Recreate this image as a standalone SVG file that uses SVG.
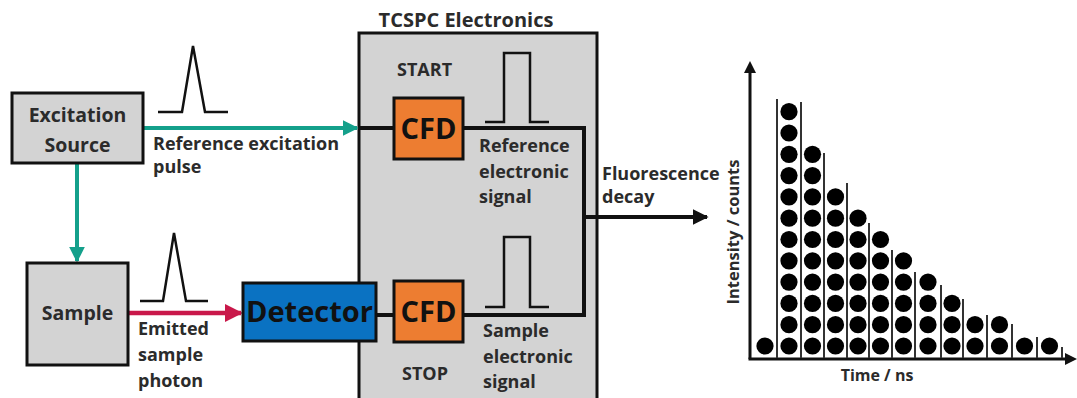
<svg xmlns="http://www.w3.org/2000/svg" width="1077" height="398" viewBox="0 0 1077 398">
<style>
.box{fill:#d3d3d3;stroke:#111;stroke-width:3}
.t{font-family:"Open Sans",Lato,"Liberation Sans",sans-serif;font-weight:bold;fill:#2b2b2b}
.m{font-size:18px}
.big{font-size:29px;fill:#111;text-anchor:middle}
.wire{fill:none;stroke:#111;stroke-width:4}
.pulse{fill:none;stroke:#111;stroke-width:2.5}
.div{stroke:#333;stroke-width:2}
</style>
<defs>
<marker id="aTeal" viewBox="0 0 10 10" refX="9" refY="5" markerWidth="4" markerHeight="4" orient="auto" markerUnits="strokeWidth"><path d="M0,0 L10,5 L0,10 z" fill="#14a08b"/></marker>
<marker id="aRed" viewBox="0 0 10 10" refX="9" refY="5" markerWidth="4" markerHeight="4" orient="auto" markerUnits="strokeWidth"><path d="M0,0 L10,5 L0,10 z" fill="#c9184a"/></marker>
<marker id="aBlk" viewBox="0 0 10 10" refX="9" refY="5" markerWidth="4" markerHeight="4" orient="auto" markerUnits="strokeWidth"><path d="M0,0 L10,5 L0,10 z" fill="#111"/></marker>
<circle id="dot" r="8.6" fill="#000"/>
</defs>

<g id="tcspc">
<rect class="box" x="359" y="33" width="238" height="380" stroke-width="2.5"/>
<text class="t" font-size="20" x="466" y="27" text-anchor="middle">TCSPC Electronics</text>
<text class="t m" x="397" y="76">START</text>
<text class="t m" x="402" y="380">STOP</text>
</g>

<g id="connectors">
<line x1="143" y1="128" x2="357" y2="128" stroke="#14a08b" stroke-width="4" marker-end="url(#aTeal)"/>
<line x1="77" y1="163" x2="77" y2="261" stroke="#14a08b" stroke-width="4" marker-end="url(#aTeal)"/>
<line x1="128" y1="313" x2="241" y2="313" stroke="#c9184a" stroke-width="4.5" marker-end="url(#aRed)"/>
<line class="wire" x1="359" y1="128" x2="394" y2="128"/>
<line class="wire" x1="376" y1="315" x2="394" y2="315"/>
<polyline class="wire" points="463,128 584,128 584,315 463,315"/>
<line x1="584" y1="217" x2="707" y2="217" stroke="#111" stroke-width="4" marker-end="url(#aBlk)"/>
</g>

<g id="excitation-source">
<rect class="box" x="12" y="93" width="131" height="70"/>
<text class="t" font-size="19.5" x="77.5" y="122" text-anchor="middle">Excitation</text>
<text class="t" font-size="19.5" x="77.5" y="152" text-anchor="middle">Source</text>
</g>

<g id="sample">
<rect class="box" x="27" y="263" width="101" height="102"/>
<text class="t" font-size="19.5" x="77.5" y="320" text-anchor="middle">Sample</text>
</g>

<g id="labels">
<polyline class="pulse" points="158,112 182,112 193,46 205,112 228,112"/>
<text class="t m" x="153" y="150">Reference excitation</text>
<text class="t m" x="153" y="173">pulse</text>
<polyline class="pulse" points="140,301 163,301 174,233 186,301 208,301"/>
<text class="t m" x="138" y="335">Emitted</text>
<text class="t m" x="138" y="361">sample</text>
<text class="t m" x="138" y="387">photon</text>
<polyline class="pulse" points="485,122 504,122 504,53 530,53 530,122 549,122"/>
<text class="t m" x="479" y="152">Reference</text>
<text class="t m" x="479" y="178">electronic</text>
<text class="t m" x="479" y="203">signal</text>
<polyline class="pulse" points="485,307 504,307 504,237 530,237 530,307 549,307"/>
<text class="t m" x="483" y="337">Sample</text>
<text class="t m" x="483" y="363">electronic</text>
<text class="t m" x="483" y="388">signal</text>
<text class="t m" x="602" y="180">Fluorescence</text>
<text class="t m" x="602" y="203">decay</text>
</g>

<g id="detector">
<rect x="243" y="283" width="133" height="58" fill="#0a72c2" stroke="#111" stroke-width="3"/>
<text class="t big" x="309.5" y="322">Detector</text>
</g>

<g id="cfd-start">
<rect x="394" y="98" width="69" height="61" fill="#ed7d31" stroke="#111" stroke-width="3"/>
<text class="t big" x="428.5" y="139">CFD</text>
</g>

<g id="cfd-stop">
<rect x="394" y="281" width="69" height="61" fill="#ed7d31" stroke="#111" stroke-width="3"/>
<text class="t big" x="428.5" y="322">CFD</text>
</g>

<g id="histogram">
<line x1="750" y1="359" x2="750" y2="70" stroke="#111" stroke-width="3"/>
<path d="M750,61 L756,73 L744,73 z" fill="#111"/>
<line x1="748.5" y1="359" x2="1068" y2="359" stroke="#111" stroke-width="3"/>
<path d="M1077,359 L1065,353 L1065,365 z" fill="#111"/>
<text class="t" font-size="16.5" transform="translate(739,232) rotate(-90)" text-anchor="middle">Intensity / counts</text>
<text class="t" font-size="16" x="877" y="381" text-anchor="middle">Time / ns</text>
<g>
<line class="div" x1="777" y1="99" x2="777" y2="358"/>
<line class="div" x1="801" y1="102" x2="801" y2="358"/>
<line class="div" x1="824" y1="153" x2="824" y2="358"/>
<line class="div" x1="847" y1="183" x2="847" y2="358"/>
<line class="div" x1="869" y1="223" x2="869" y2="358"/>
<line class="div" x1="892" y1="250" x2="892" y2="358"/>
<line class="div" x1="915" y1="272" x2="915" y2="358"/>
<line class="div" x1="941" y1="285" x2="941" y2="358"/>
<line class="div" x1="963" y1="299" x2="963" y2="358"/>
<line class="div" x1="987" y1="315" x2="987" y2="358"/>
<line class="div" x1="1012" y1="324" x2="1012" y2="358"/>
<line class="div" x1="1037" y1="337" x2="1037" y2="358"/>
<line class="div" x1="1062" y1="347" x2="1062" y2="358"/>
</g>
<g>
<use href="#dot" x="765" y="346"/>
<use href="#dot" x="789" y="346"/><use href="#dot" x="789" y="324.7"/><use href="#dot" x="789" y="303.4"/><use href="#dot" x="789" y="282.1"/><use href="#dot" x="789" y="260.8"/><use href="#dot" x="789" y="239.5"/><use href="#dot" x="789" y="218.2"/><use href="#dot" x="789" y="196.9"/><use href="#dot" x="789" y="175.6"/><use href="#dot" x="789" y="154.3"/><use href="#dot" x="789" y="133"/><use href="#dot" x="789" y="111.7"/>
<use href="#dot" x="812.5" y="346"/><use href="#dot" x="812.5" y="324.7"/><use href="#dot" x="812.5" y="303.4"/><use href="#dot" x="812.5" y="282.1"/><use href="#dot" x="812.5" y="260.8"/><use href="#dot" x="812.5" y="239.5"/><use href="#dot" x="812.5" y="218.2"/><use href="#dot" x="812.5" y="196.9"/><use href="#dot" x="812.5" y="175.6"/><use href="#dot" x="812.5" y="154.3"/>
<use href="#dot" x="835.5" y="346"/><use href="#dot" x="835.5" y="324.7"/><use href="#dot" x="835.5" y="303.4"/><use href="#dot" x="835.5" y="282.1"/><use href="#dot" x="835.5" y="260.8"/><use href="#dot" x="835.5" y="239.5"/><use href="#dot" x="835.5" y="218.2"/><use href="#dot" x="835.5" y="196.9"/>
<use href="#dot" x="858" y="346"/><use href="#dot" x="858" y="324.7"/><use href="#dot" x="858" y="303.4"/><use href="#dot" x="858" y="282.1"/><use href="#dot" x="858" y="260.8"/><use href="#dot" x="858" y="239.5"/><use href="#dot" x="858" y="218.2"/>
<use href="#dot" x="880.5" y="346"/><use href="#dot" x="880.5" y="324.7"/><use href="#dot" x="880.5" y="303.4"/><use href="#dot" x="880.5" y="282.1"/><use href="#dot" x="880.5" y="260.8"/><use href="#dot" x="880.5" y="239.5"/>
<use href="#dot" x="903.5" y="346"/><use href="#dot" x="903.5" y="324.7"/><use href="#dot" x="903.5" y="303.4"/><use href="#dot" x="903.5" y="282.1"/><use href="#dot" x="903.5" y="260.8"/>
<use href="#dot" x="928" y="346"/><use href="#dot" x="928" y="324.7"/><use href="#dot" x="928" y="303.4"/><use href="#dot" x="928" y="282.1"/>
<use href="#dot" x="952" y="346"/><use href="#dot" x="952" y="324.7"/><use href="#dot" x="952" y="303.4"/>
<use href="#dot" x="975" y="346"/><use href="#dot" x="975" y="324.7"/>
<use href="#dot" x="999.5" y="346"/><use href="#dot" x="999.5" y="324.7"/>
<use href="#dot" x="1024.5" y="346"/>
<use href="#dot" x="1049.5" y="346"/>
</g>
</g>
</svg>
